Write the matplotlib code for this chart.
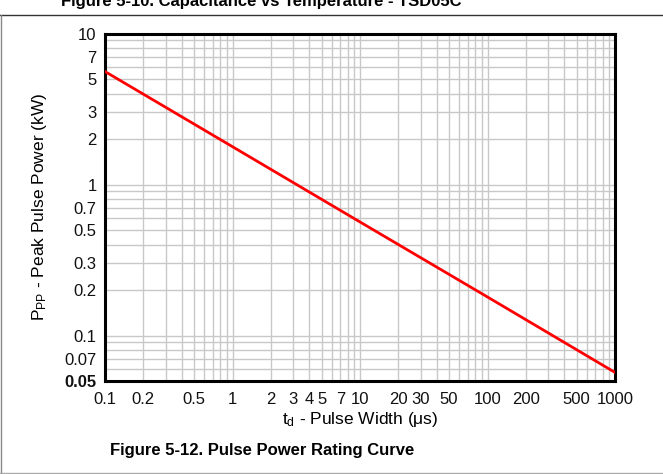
import matplotlib
matplotlib.use('Agg')
import matplotlib.pyplot as plt
from matplotlib.lines import Line2D
from matplotlib.ticker import FixedLocator, LogLocator, NullFormatter

plt.rcParams['font.family'] = ['Liberation Sans', 'DejaVu Sans']
plt.rcParams['mathtext.fontset'] = 'custom'
plt.rcParams['mathtext.rm'] = 'Liberation Sans'
plt.rcParams['mathtext.it'] = 'Liberation Sans'

# Pulse power rating curve
pulse_width_us = [0.1, 1, 10, 100, 1000]
peak_power_kw = [5.6, 1.78, 0.565, 0.18, 0.057]

x_ticks = [0.1, 0.2, 0.5, 1, 2, 3, 4, 5, 7, 10, 20, 30, 50, 100, 200, 500, 1000]
x_labels = ['0.1', '0.2', '0.5', '1', '2', '3', '4', '5', '7', '10',
            '20', '30', '50', '100', '200', '500', '1000']
y_ticks = [0.05, 0.07, 0.1, 0.2, 0.3, 0.5, 0.7, 1, 2, 3, 5, 7, 10]
y_labels = ['0.05', '0.07', '0.1', '0.2', '0.3', '0.5', '0.7', '1', '2', '3', '5', '7', '10']

fig = plt.figure(figsize=(6.63, 4.74), dpi=100)
ax = fig.add_axes([105 / 663, 1 - 381 / 474, 510 / 663, 347.5 / 474])

ax.plot(pulse_width_us, peak_power_kw, color='#ff0000', lw=2, zorder=3)

ax.set_xscale('log')
ax.set_yscale('log')
ax.set_xlim(0.1, 1000)
ax.set_ylim(0.05, 10)

ax.xaxis.set_major_locator(FixedLocator(x_ticks))
ax.set_xticklabels(x_labels)
ax.yaxis.set_major_locator(FixedLocator(y_ticks))
ax.set_yticklabels(y_labels)
ax.xaxis.set_minor_locator(LogLocator(base=10, subs=range(1, 10), numticks=20))
ax.yaxis.set_minor_locator(LogLocator(base=10, subs=range(1, 10), numticks=20))
ax.xaxis.set_minor_formatter(NullFormatter())
ax.yaxis.set_minor_formatter(NullFormatter())

ax.grid(True, which='both', color='#c8c8c8', lw=1)
ax.set_axisbelow(True)
ax.tick_params(which='both', length=0, labelsize=12, colors='#111111')
ax.tick_params(axis='x', pad=8)
ax.tick_params(axis='y', pad=6)
# bottom y label looks heavier in the original
ax.get_yticklabels()[0].set_fontweight('bold')
for s in ax.spines.values():
    s.set_linewidth(2.2)
    s.set_color('black')

ax.set_xlabel(r'$\mathregular{t_d}$ - Pulse Width ($\mathregular{\mu}$s)', fontsize=12.5, labelpad=2)
ax.set_ylabel(r'$\mathregular{P_{PP}}$ - Peak Pulse Power (kW)', fontsize=12.5, labelpad=11)

# captions
fig.text(262 / 663, 1 - 450 / 474, 'Figure 5-12. Pulse Power Rating Curve',
         ha='center', va='center', fontsize=12, fontweight='bold')
fig.text(261 / 663, 1 - 6 / 474, 'Figure 5-10. Capacitance vs Temperature - TSD05C',
         ha='center', va='baseline', fontsize=12, fontweight='bold')

# page frame
fig.add_artist(Line2D([0, 1], [1 - 15 / 474, 1 - 15 / 474], color='#333333', lw=1))
fig.add_artist(Line2D([0.5 / 663, 0.5 / 663], [1 - 15 / 474, 1 - 472.5 / 474], color='#888888', lw=1))
fig.add_artist(Line2D([0, 1], [1 - 472.5 / 474, 1 - 472.5 / 474], color='#aaaaaa', lw=1))

plt.savefig('out.png', dpi=100)
